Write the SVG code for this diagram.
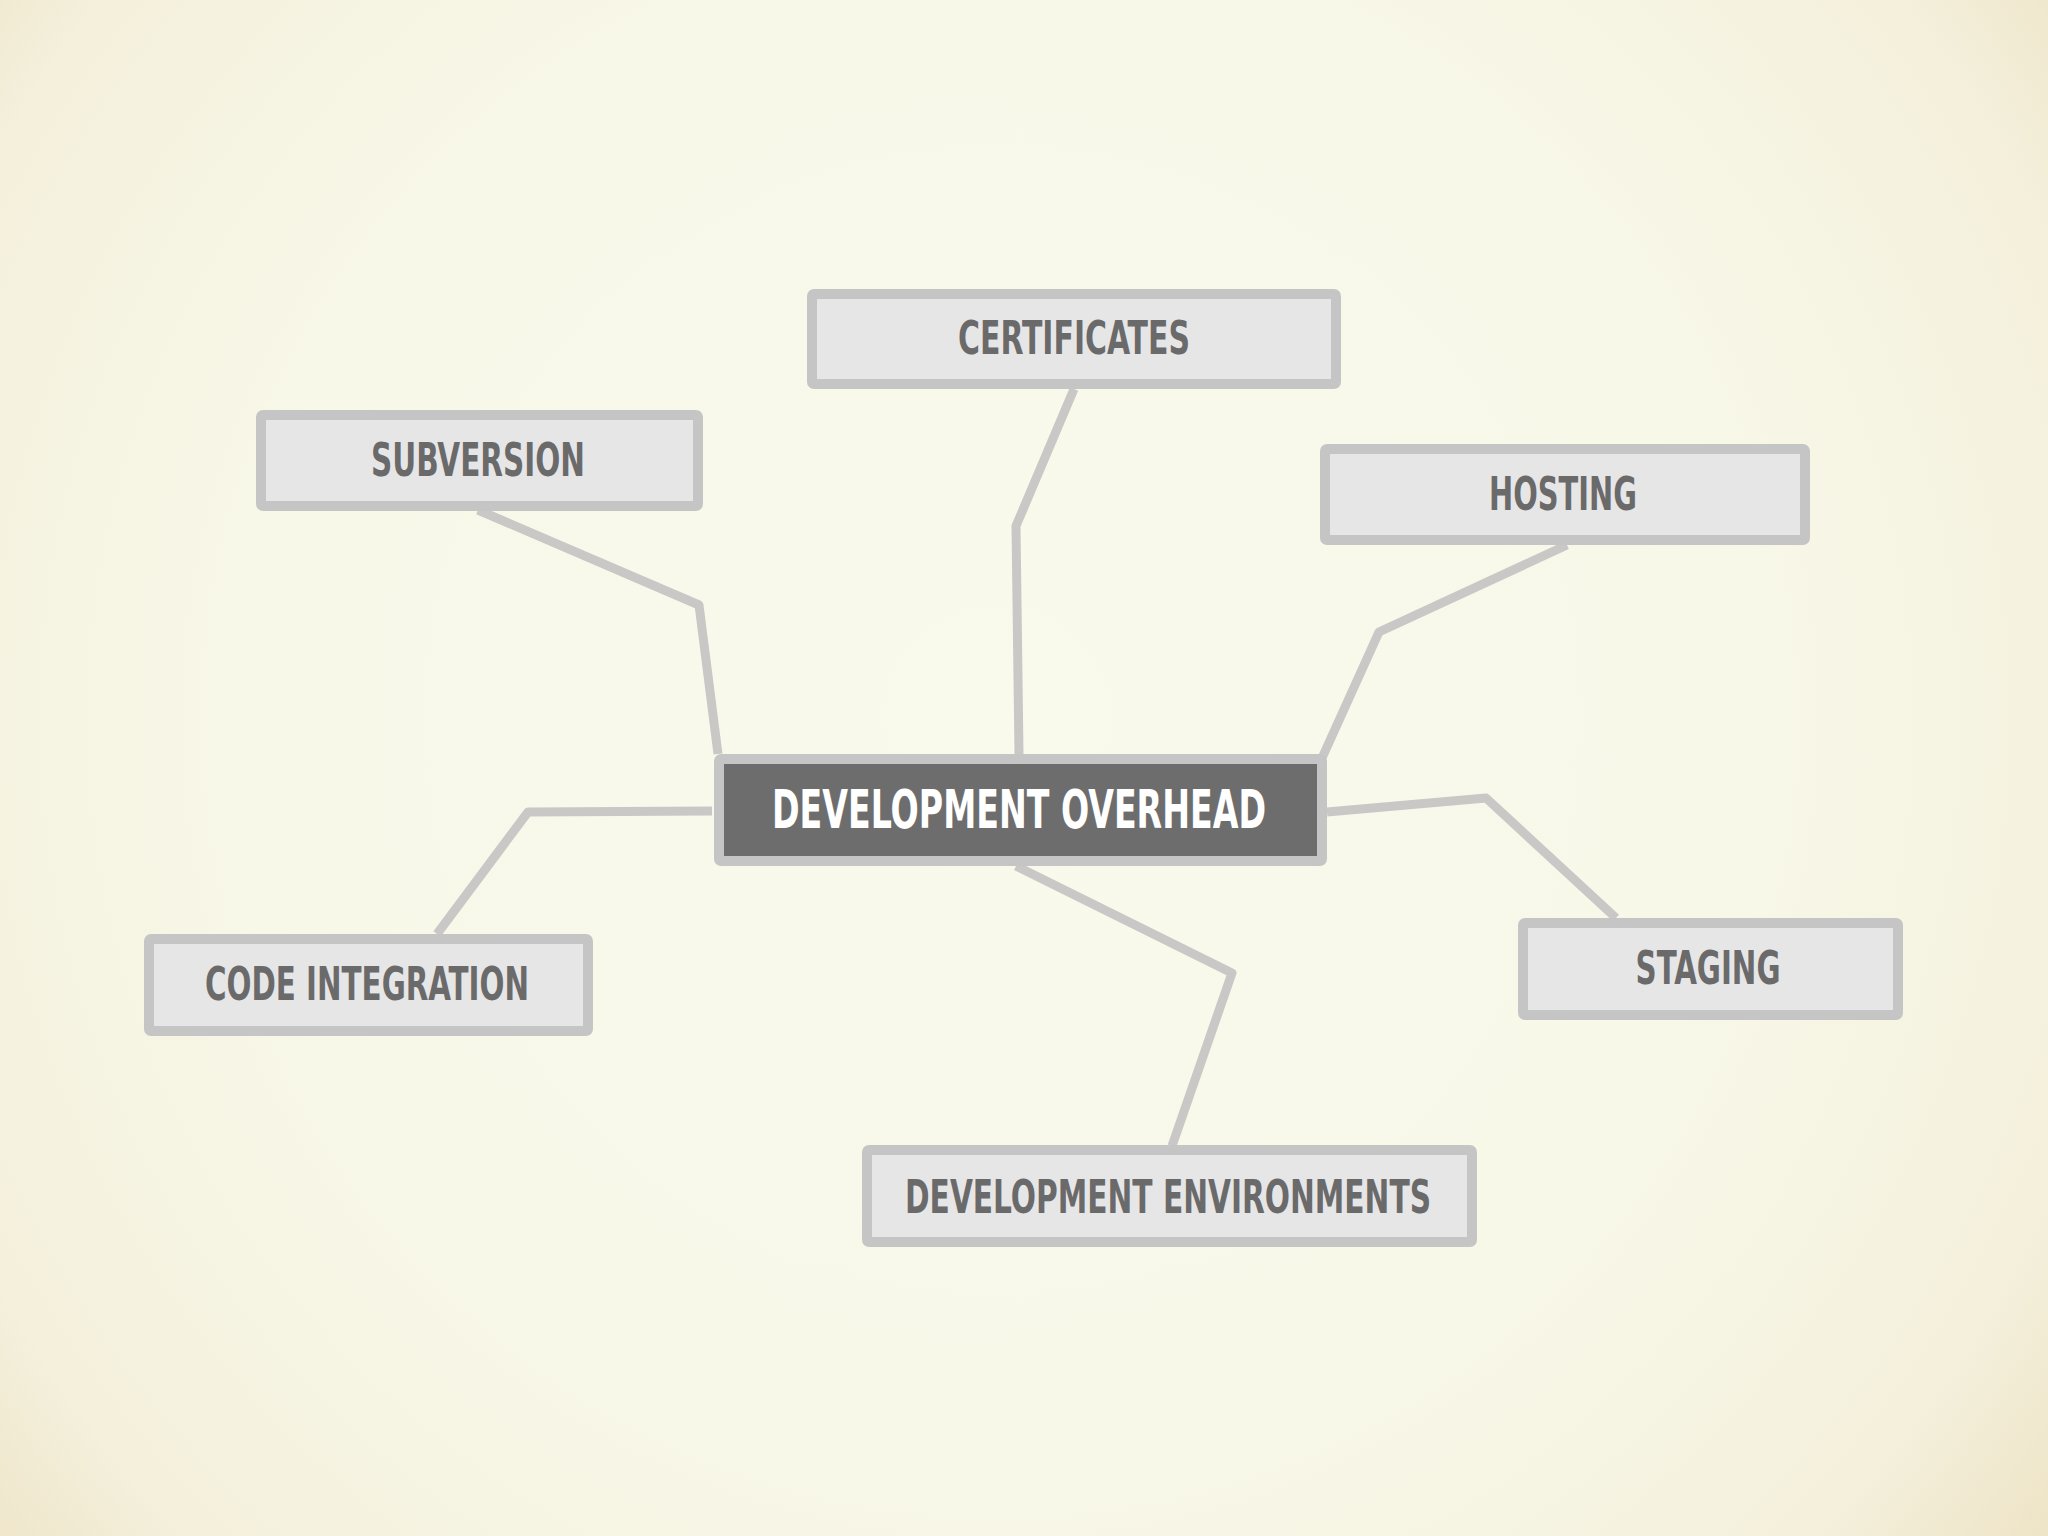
<svg xmlns="http://www.w3.org/2000/svg" width="2048" height="1536" viewBox="0 0 2048 1536">
<defs>
<radialGradient id="bg" cx="1000" cy="720" r="1350" gradientUnits="userSpaceOnUse">
<stop offset="0" stop-color="#f9faec"/>
<stop offset="0.55" stop-color="#f8f8e9"/>
<stop offset="0.85" stop-color="#f4f0dc"/>
<stop offset="1" stop-color="#ede2c4"/>
</radialGradient>
<style>
.conn{fill:none;stroke:#c9c8c6;stroke-width:9;stroke-linejoin:round;stroke-linecap:butt}
.box{fill:#e7e6e7;stroke:#c6c5c5;stroke-width:10}
.cbox{fill:#6e6d6e;stroke:#c6c5c5;stroke-width:10}
.lbl{font-family:"Liberation Sans Narrow","DejaVu Sans Condensed","Liberation Sans",sans-serif;font-weight:bold;font-size:46px;fill:#6b6a6b;text-anchor:middle}
.clbl{font-family:"Liberation Sans Narrow","DejaVu Sans Condensed","Liberation Sans",sans-serif;font-weight:bold;font-size:54px;fill:#ffffff;text-anchor:middle}
</style>
</defs>
<rect x="0" y="0" width="2048" height="1536" fill="url(#bg)"/>
<g id="connectors">
<polyline class="conn" points="478,510 699,605 718,754"/>
<polyline class="conn" points="1074,389 1016,526 1019,754"/>
<polyline class="conn" points="1567,545 1379,632 1322,758"/>
<polyline class="conn" points="712,811 528,812 437,934"/>
<polyline class="conn" points="1327,812 1486,798 1616,918"/>
<polyline class="conn" points="1016,866 1232,973 1172,1146"/>
</g>
<g id="certificates">
<rect class="box" x="812" y="294" width="524" height="90" rx="2"/>
<text class="lbl" x="1074" y="354" textLength="232" lengthAdjust="spacingAndGlyphs">CERTIFICATES</text>
</g>
<g id="subversion">
<rect class="box" x="261" y="415" width="437" height="91" rx="2"/>
<text class="lbl" x="478" y="476" textLength="214" lengthAdjust="spacingAndGlyphs">SUBVERSION</text>
</g>
<g id="hosting">
<rect class="box" x="1325" y="449" width="480" height="91" rx="2"/>
<text class="lbl" x="1563" y="510" textLength="148" lengthAdjust="spacingAndGlyphs">HOSTING</text>
</g>
<g id="code-integration">
<rect class="box" x="149" y="939" width="439" height="92" rx="2"/>
<text class="lbl" x="367" y="1000" textLength="324" lengthAdjust="spacingAndGlyphs">CODE INTEGRATION</text>
</g>
<g id="staging">
<rect class="box" x="1523" y="923" width="375" height="92" rx="2"/>
<text class="lbl" x="1708" y="984" textLength="145" lengthAdjust="spacingAndGlyphs">STAGING</text>
</g>
<g id="development-environments">
<rect class="box" x="867" y="1150" width="605" height="92" rx="2"/>
<text class="lbl" x="1168" y="1213" textLength="526" lengthAdjust="spacingAndGlyphs">DEVELOPMENT ENVIRONMENTS</text>
</g>
<g id="development-overhead">
<rect class="cbox" x="719" y="759" width="603" height="102" rx="2"/>
<text class="clbl" x="1019" y="828" textLength="494" lengthAdjust="spacingAndGlyphs">DEVELOPMENT OVERHEAD</text>
</g>
</svg>
